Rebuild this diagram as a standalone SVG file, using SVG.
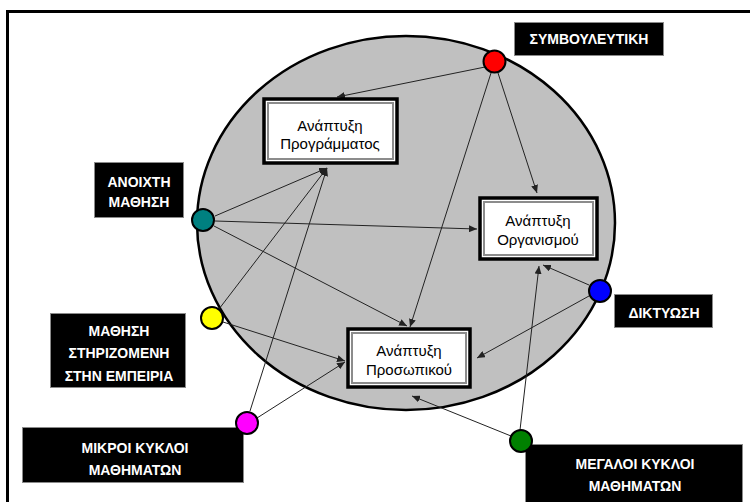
<svg xmlns="http://www.w3.org/2000/svg" width="750" height="502" viewBox="0 0 750 502">
<defs>
<marker id="ah" markerUnits="userSpaceOnUse" markerWidth="8" markerHeight="7" refX="8" refY="3.5" orient="auto">
<path d="M0,0 L8,3.5 L0,7 z" fill="#222"/>
</marker>
<style>
.lbl{fill:#000;stroke:#8a8a8a;stroke-width:1}
.lt{font-family:"Liberation Sans",Arial,sans-serif;font-size:14px;font-weight:bold;fill:#fff;text-anchor:middle}
.bt{font-family:"Liberation Sans",Arial,sans-serif;font-size:15px;fill:#000;text-anchor:middle}
.bo{fill:#fff;stroke:#000;stroke-width:3.5}
.bi{fill:none;stroke:#8c8c8c;stroke-width:2}
.dot{stroke:#000;stroke-width:2}
.con line{stroke:#222;stroke-width:1;marker-end:url(#ah)}
</style>
</defs>
<rect x="0" y="0" width="750" height="502" fill="#fff"/>
<rect x="7.5" y="11.5" width="800" height="600" fill="#fff" stroke="#000" stroke-width="3"/>
<ellipse cx="406" cy="223" rx="209" ry="187" fill="#c0c0c0" stroke="#000" stroke-width="2.5"/>

<g id="connectors" class="con">
<line x1="490" y1="66" x2="337" y2="97"/>
<line x1="498" y1="73" x2="537" y2="193"/>
<line x1="491" y1="73" x2="410" y2="327"/>
<line x1="215" y1="216" x2="327" y2="168"/>
<line x1="215" y1="221" x2="477" y2="229"/>
<line x1="214" y1="226" x2="407" y2="326"/>
<line x1="219" y1="309" x2="327" y2="168"/>
<line x1="223" y1="322" x2="345" y2="361"/>
<line x1="250" y1="411" x2="327" y2="168"/>
<line x1="257" y1="418" x2="345" y2="362"/>
<line x1="589" y1="285" x2="543" y2="265"/>
<line x1="589" y1="296" x2="477" y2="358"/>
<line x1="520" y1="430" x2="539" y2="266"/>
<line x1="511" y1="436" x2="412" y2="396"/>
</g>

<g id="box-programmatos">
<rect class="bo" x="264" y="99" width="133" height="64"/>
<rect class="bi" x="268" y="103" width="125" height="56"/>
<text class="bt" x="330" y="131">Ανάπτυξη</text>
<text class="bt" x="330" y="149">Προγράμματος</text>
</g>
<g id="box-organismou">
<rect class="bo" x="480" y="198" width="117" height="61"/>
<rect class="bi" x="484" y="202" width="109" height="53"/>
<text class="bt" x="538" y="226">Ανάπτυξη</text>
<text class="bt" x="538" y="245">Οργανισμού</text>
</g>
<g id="box-prosopikou">
<rect class="bo" x="348" y="329" width="122" height="58"/>
<rect class="bi" x="352" y="333" width="114" height="50"/>
<text class="bt" x="409" y="356">Ανάπτυξη</text>
<text class="bt" x="409" y="375">Προσωπικού</text>
</g>

<g id="node-symvouleytiki">
<rect class="lbl" x="514.5" y="22.5" width="149" height="33"/>
<text class="lt" x="589" y="44">ΣΥΜΒΟΥΛΕΥΤΙΚΗ</text>
<circle class="dot" cx="494.5" cy="61.5" r="11" fill="#ff0000"/>
</g>
<g id="node-anoixti">
<rect class="lbl" x="94.5" y="162.5" width="89" height="55"/>
<text class="lt" x="139" y="187">ΑΝΟΙΧΤΗ</text>
<text class="lt" x="139" y="207">ΜΑΘΗΣΗ</text>
<circle class="dot" cx="203" cy="220" r="11" fill="#008080"/>
</g>
<g id="node-empeiria">
<rect class="lbl" x="50.5" y="313.5" width="135" height="74"/>
<text class="lt" x="119" y="336">ΜΑΘΗΣΗ</text>
<text class="lt" x="119" y="358">ΣΤΗΡΙΖΟΜΕΝΗ</text>
<text class="lt" x="119" y="381">ΣΤΗΝ ΕΜΠΕΙΡΙΑ</text>
<circle class="dot" cx="212" cy="318" r="11" fill="#ffff00"/>
</g>
<g id="node-mikroi">
<rect class="lbl" x="22.5" y="427.5" width="221" height="55"/>
<text class="lt" x="135" y="453">ΜΙΚΡΟΙ ΚΥΚΛΟΙ</text>
<text class="lt" x="135" y="475">ΜΑΘΗΜΑΤΩΝ</text>
<circle class="dot" cx="247" cy="423" r="11" fill="#ff00ff"/>
</g>
<g id="node-diktyosi">
<rect class="lbl" x="614.5" y="294.5" width="98" height="33"/>
<text class="lt" x="664" y="318">ΔΙΚΤΥΩΣΗ</text>
<circle class="dot" cx="600" cy="291" r="11" fill="#0000ff"/>
</g>
<g id="node-megaloi">
<rect class="lbl" x="525.5" y="444.5" width="217" height="60"/>
<text class="lt" x="635" y="469">ΜΕΓΑΛΟΙ ΚΥΚΛΟΙ</text>
<text class="lt" x="635" y="491">ΜΑΘΗΜΑΤΩΝ</text>
<circle class="dot" cx="521" cy="441" r="11" fill="#008000"/>
</g>
</svg>
